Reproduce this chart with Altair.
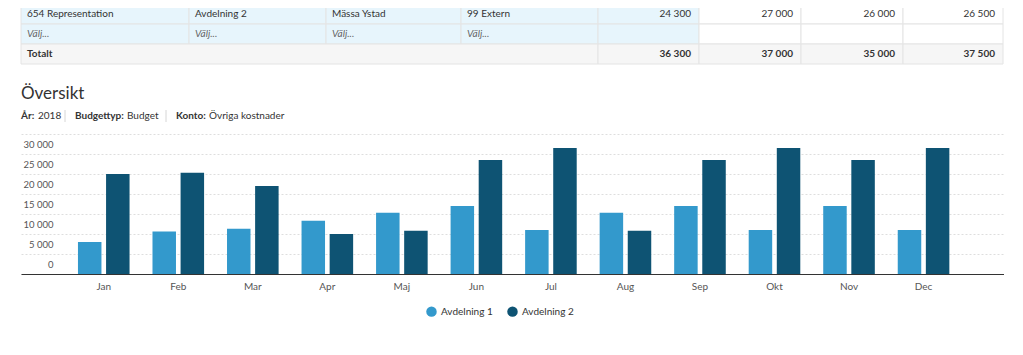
import altair as alt
import pandas as pd

# ---------------- data ----------------
months = ["Jan", "Feb", "Mar", "Apr", "Maj", "Jun", "Jul", "Aug", "Sep", "Okt", "Nov", "Dec"]
series_names = ["Avdelning 1", "Avdelning 2"]
avd1 = [8000, 10600, 11300, 13300, 15300, 17000, 11000, 15300, 17000, 11000, 17000, 11000]
avd2 = [25000, 25300, 22000, 10000, 10800, 28500, 31500, 10800, 28500, 31500, 28500, 31500]

tbl_row1 = ["654 Representation", "Avdelning 2", "Mässa Ystad", "99 Extern", "24 300", "27 000", "26 000", "26 500"]
tbl_row2 = ["Välj...", "Välj...", "Välj...", "Välj...", "", "", "", ""]
tbl_total_label = "Totalt"
tbl_totals = ["36 300", "37 000", "35 000", "37 500"]

title_text = "Översikt"
meta_labels = ["År:", "Budgettyp:", "Konto:"]
meta_values = ["2018", "Budget", "Övriga kostnader"]

# ---------------- layout / style constants ----------------
FONT = "Lato"
W = 983
col_widths = [168, 137, 135, 137, 101, 102, 102, 100]
edges = [0]
for w in col_widths:
    edges.append(edges[-1] + w)
BLUE_BG = "#e7f5fc"
GREY_BG = "#f6f6f6"
BORDER = "#e4e4e4"
C1 = "#3399cc"
C2 = "#0e5373"

# ---------------- table ----------------
cells = []
for c, t in enumerate(tbl_row1):
    cells.append(dict(row=0, x0=edges[c], x1=edges[c + 1], text=t,
                      fill=BLUE_BG if c < 5 else "#ffffff",
                      style="normal", align="left" if c < 4 else "right"))
for c, t in enumerate(tbl_row2):
    cells.append(dict(row=1, x0=edges[c], x1=edges[c + 1], text=t,
                      fill=BLUE_BG if c < 5 else "#ffffff",
                      style="italic", align="left" if c < 4 else "right"))
cells.append(dict(row=2, x0=edges[0], x1=edges[4], text=tbl_total_label,
                  fill=GREY_BG, style="bold", align="left"))
for i, t in enumerate(tbl_totals):
    c = 4 + i
    cells.append(dict(row=2, x0=edges[c], x1=edges[c + 1], text=t,
                      fill=GREY_BG, style="bold", align="right"))
tdf = pd.DataFrame(cells)
tdf["tx"] = [r.x0 + 6 if r.align == "left" else r.x1 - 8 for r in tdf.itertuples()]

tx_scale = alt.Scale(domain=[0, W], range=[0, W], nice=False, zero=False)
ty = alt.Y("row:O", axis=None, scale=alt.Scale(paddingInner=0, paddingOuter=0))

tbase = alt.Chart(tdf)
t_rect = tbase.mark_rect(stroke=BORDER, strokeWidth=1).encode(
    x=alt.X("x0:Q", scale=tx_scale, axis=None),
    x2="x1:Q",
    y=ty,
    fill=alt.Fill("fill:N", scale=None),
)


def tlayer(style, align, color, weight="normal", fstyle="normal"):
    return tbase.transform_filter(
        (alt.datum.style == style) & (alt.datum.align == align)
    ).mark_text(align=align, baseline="middle", font=FONT, fontSize=10,
                color=color, fontWeight=weight, fontStyle=fstyle).encode(
        x=alt.X("tx:Q", scale=tx_scale, axis=None),
        y=ty,
        text="text:N",
    )


table = alt.layer(
    t_rect,
    tlayer("normal", "left", "#333333"),
    tlayer("normal", "right", "#333333"),
    tlayer("italic", "left", "#666666", fstyle="italic"),
    tlayer("bold", "left", "#333333", weight="bold"),
    tlayer("bold", "right", "#333333", weight="bold"),
).properties(width=W, height=60)

# ---------------- header (title + meta line) ----------------
one = alt.Data(values=[{}])
hdr_layers = [
    alt.Chart(one).mark_text(align="left", baseline="middle", font=FONT, fontSize=17,
                             color="#333333").encode(
        x=alt.value(0), y=alt.value(29), text=alt.value(title_text))
]
lab_x = [0, 54, 155]
val_x = [17, 106, 188]
sep_x = [44, 145]
for i in range(3):
    hdr_layers.append(alt.Chart(one).mark_text(
        align="left", baseline="middle", font=FONT, fontSize=10, fontWeight="bold",
        color="#333333").encode(x=alt.value(lab_x[i]), y=alt.value(51), text=alt.value(meta_labels[i])))
    hdr_layers.append(alt.Chart(one).mark_text(
        align="left", baseline="middle", font=FONT, fontSize=10,
        color="#333333").encode(x=alt.value(val_x[i]), y=alt.value(51), text=alt.value(meta_values[i])))
for sx in sep_x:
    hdr_layers.append(alt.Chart(one).mark_rule(color="#d6d6d6", strokeWidth=1).encode(
        x=alt.value(sx), y=alt.value(45), y2=alt.value(57)))
header = alt.layer(*hdr_layers).properties(width=W, height=69)

# ---------------- bar chart ----------------
rows = []
for m, a, b in zip(months, avd1, avd2):
    rows.append(dict(month=m, series=series_names[0], value=a))
    rows.append(dict(month=m, series=series_names[1], value=b))
bdf = pd.DataFrame(rows)

bars = alt.Chart(bdf).mark_bar().encode(
    x=alt.X("month:N", sort=months,
            scale=alt.Scale(paddingInner=0, paddingOuter=0.595, align=0.513),
            axis=alt.Axis(title=None, labelAngle=0, ticks=False, domainColor="#333333",
                          domainWidth=1, labelPadding=7, labelColor="#555555",
                          labelFontSize=10, labelFont=FONT, grid=False)),
    xOffset=alt.XOffset("series:N", sort=series_names,
                        scale=alt.Scale(paddingInner=0.164, paddingOuter=0.408)),
    y=alt.Y("value:Q", scale=alt.Scale(domain=[0, 35000], nice=False),
            axis=alt.Axis(title=None, values=list(range(0, 35001, 5000)), domain=False,
                          ticks=False, labelPadding=-32, labelOffset=-10,
                          labelAlign="right", labelColor="#555555", labelFontSize=9.5,
                          labelFont=FONT, gridDash=[2, 2], gridColor="#dedede",
                          labelExpr="datum.value >= 35000 ? '' : replace(format(datum.value, ','), ',', ' ')")),
    color=alt.Color("series:N", sort=series_names,
                    scale=alt.Scale(domain=series_names, range=[C1, C2]),
                    legend=alt.Legend(orient="none", legendX=405, legendY=302,
                                      direction="horizontal", title=None,
                                      symbolType="circle", symbolSize=110,
                                      symbolStrokeWidth=0, labelFontSize=10,
                                      labelFont=FONT, labelColor="#333333",
                                      columnPadding=14)),
).properties(width=W, height=140)

chart = alt.vconcat(table, header, bars, spacing=0).properties(
    padding={"left": 12, "top": -5, "right": 0, "bottom": 0}
).configure(font=FONT, view=alt.ViewConfig(stroke=None))

chart.save("out.html", embed_options={"renderer": "svg", "actions": False})
